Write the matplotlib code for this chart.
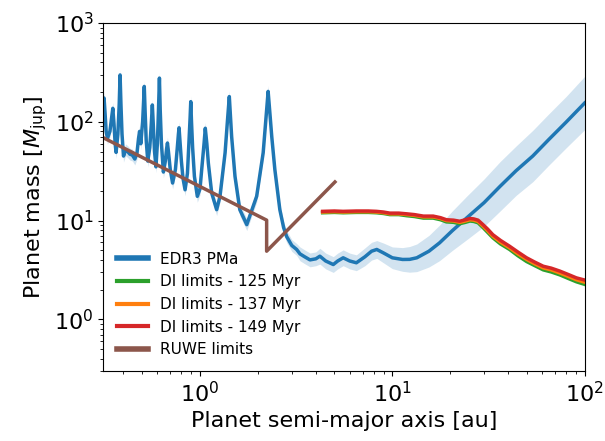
import numpy as np
import matplotlib
matplotlib.use('Agg')
import matplotlib.pyplot as plt

# EDR3 PMa sensitivity curve, inner part with the aliasing peaks (a [au], M [Mjup])
a_pma_in = [0.314, 0.317, 0.321, 0.325, 0.330, 0.340, 0.347, 0.352, 0.357, 0.362,
            0.366, 0.374, 0.380, 0.384, 0.388, 0.393, 0.400, 0.410, 0.420, 0.432,
            0.445, 0.458, 0.470, 0.479, 0.485, 0.492, 0.503, 0.508, 0.513, 0.518,
            0.525, 0.535, 0.548, 0.558, 0.565, 0.572, 0.580, 0.590, 0.600, 0.608,
            0.615, 0.621, 0.630, 0.645, 0.660, 0.670, 0.677, 0.685, 0.700, 0.720,
            0.745, 0.762, 0.772, 0.778, 0.786, 0.800, 0.815, 0.836, 0.860, 0.875,
            0.888, 0.895, 0.903, 0.915, 0.935, 0.968, 1.00, 1.02, 1.05, 1.065,
            1.085, 1.105, 1.15, 1.22, 1.27, 1.35, 1.39, 1.42, 1.46, 1.52,
            1.61, 1.75, 1.97, 2.13, 2.22, 2.26, 2.31, 2.36, 2.45, 2.60]
m_pma_in = [150, 174, 120, 80, 68, 80, 110, 137, 95, 60,
            49, 75, 150, 298, 150, 75, 45, 52, 50, 47,
            46, 42, 48, 68, 80, 60, 100, 150, 228, 130,
            65, 40, 55, 95, 148, 90, 50, 35, 60, 130,
            277, 130, 60, 31, 40, 53, 61, 50, 33, 24,
            33, 55, 75, 87, 65, 40, 27, 20.5, 30, 60,
            110, 160, 100, 55, 28, 17.6, 21, 32.7, 61, 86,
            60, 38, 19, 12.9, 17.6, 48.6, 105, 180, 71, 28,
            12.9, 9.1, 17.6, 48.6, 132, 203, 120, 71, 32.7, 12.9]
err_pma_in = 0.06

# outer part, with band half-width [dex]
a_pma_out = [2.72, 2.82, 3.00, 3.18, 3.31, 3.50, 3.73, 4.0, 4.2, 4.5,
             4.93, 5.2, 5.55, 6.0, 6.5, 7.2, 7.8, 8.3, 9.0, 10.0,
             11.3, 12.3, 13.4, 15.5, 17.6, 20.5, 24.3, 30.0, 36.3, 44.0,
             53.7, 65.0, 80.0, 100.0]
m_pma_out = [8.5, 6.9, 5.6, 5.1, 4.6, 4.3, 4.0, 4.1, 4.36, 3.9,
             3.59, 3.9, 4.2, 3.9, 3.74, 4.3, 4.9, 5.1, 4.7, 4.2,
             4.04, 4.05, 4.2, 4.9, 5.95, 7.9, 10.6, 15.2, 22.2, 32.0,
             45.0, 66.0, 99.0, 155.0]
err_pma_out = [0.06, 0.06, 0.06, 0.06, 0.07, 0.07, 0.07, 0.07, 0.08, 0.08,
               0.08, 0.08, 0.08, 0.08, 0.08, 0.09, 0.09, 0.09, 0.1, 0.11,
               0.12, 0.13, 0.14, 0.16, 0.18, 0.2, 0.22, 0.24, 0.25, 0.25,
               0.26, 0.26, 0.26, 0.27]

# Direct imaging detection limits
a_di = [4.34, 5.0, 5.55, 6.5, 7.5, 8.27, 9.0, 9.7, 10.8, 11.9,
        13.0, 14.5, 16.3, 17.8, 19.1, 20.8, 22.4, 24.0, 25.3, 26.5,
        27.9, 29.6, 31.3, 33.3, 36.5, 40.7, 45.0, 49.9, 55.0, 60.9,
        67.0, 74.3, 82.0, 90.6, 100.0]
m_di_125 = [12.0, 12.1, 12.0, 12.1, 12.1, 12.0, 11.8, 11.5, 11.5, 11.2,
            11.0, 10.6, 10.6, 10.2, 9.7, 9.6, 9.3, 9.6, 9.9, 9.8,
            9.5, 8.5, 7.6, 6.7, 5.8, 5.1, 4.4, 3.85, 3.5, 3.17,
            3.02, 2.82, 2.6, 2.4, 2.26]
m_di_137 = [12.2, 12.3, 12.2, 12.3, 12.3, 12.2, 12.0, 11.7, 11.7, 11.5,
            11.3, 10.9, 10.9, 10.5, 10.0, 9.9, 9.6, 9.9, 10.2, 10.1,
            9.8, 8.8, 7.9, 6.95, 6.05, 5.3, 4.6, 4.05, 3.65, 3.32,
            3.17, 2.95, 2.73, 2.52, 2.38]
m_di_149 = [12.4, 12.5, 12.4, 12.5, 12.5, 12.4, 12.2, 11.9, 11.9, 11.7,
            11.5, 11.1, 11.1, 10.7, 10.2, 10.1, 9.85, 10.2, 10.5, 10.4,
            10.1, 9.1, 8.2, 7.2, 6.3, 5.5, 4.8, 4.2, 3.8, 3.45,
            3.3, 3.08, 2.85, 2.63, 2.5]

# RUWE limits
a_ruwe = [0.314, 2.22, 2.22, 5.03]
m_ruwe = [69, 10.1, 4.9, 24.6]

a_pma = np.array(a_pma_in + a_pma_out)
m_pma = np.array(m_pma_in + m_pma_out)
err_pma = np.array([err_pma_in] * len(a_pma_in) + err_pma_out)

fig = plt.figure(figsize=(6.05, 4.41), dpi=100)
ax = fig.add_axes([0.1707, 0.1587, 0.7957, 0.7891])

ax.fill_between(a_pma, m_pma / 10**err_pma, m_pma * 10**err_pma,
                color='C0', alpha=0.2, lw=0)
ax.plot(a_pma, m_pma, color='C0', lw=2.5, label='EDR3 PMa')
ax.plot(a_di, m_di_125, color='C2', lw=2.5, label='DI limits - 125 Myr')
ax.plot(a_di, m_di_137, color='C1', lw=2.5, label='DI limits - 137 Myr')
ax.plot(a_di, m_di_149, color='C3', lw=2.5, label='DI limits - 149 Myr')
ax.plot(a_ruwe, m_ruwe, color='C5', lw=2.5, label='RUWE limits')

ax.set_xscale('log')
ax.set_yscale('log')
ax.set_xlim(0.314, 100)
ax.set_ylim(0.3, 1000)
ax.tick_params(labelsize=16)
ax.set_xlabel('Planet semi-major axis [au]', fontsize=16)
ax.set_ylabel(r'Planet mass [$M_{\rm jup}$]', fontsize=16)

leg = ax.legend(loc='lower left', frameon=False, fontsize=11)
for h, w in zip(leg.get_lines(), [4, 3, 3, 3, 4]):
    h.set_linewidth(w)

fig.savefig('out.png', dpi=100)
